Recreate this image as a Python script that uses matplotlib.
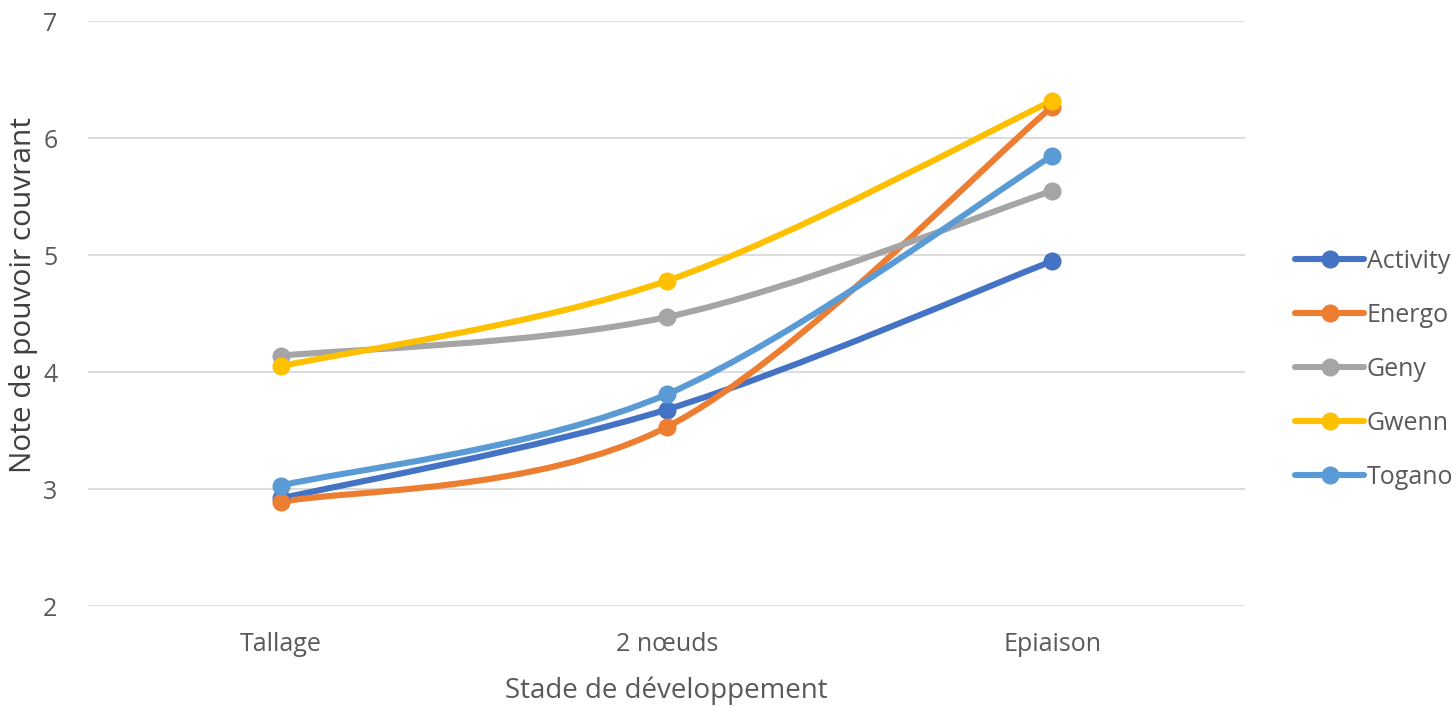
import matplotlib
matplotlib.use("Agg")
import matplotlib.pyplot as plt
import numpy as np
from matplotlib.path import Path
from matplotlib.patches import PathPatch
from matplotlib.lines import Line2D

stages = ["Tallage", "2 nœuds", "Epiaison"]
activity = [2.92, 3.68, 4.95]
energo = [2.89, 3.53, 6.27]
geny = [4.14, 4.47, 5.55]
gwenn = [4.05, 4.78, 6.32]
togano = [3.03, 3.81, 5.85]

series = [("Activity", activity, "#4472C4"),
          ("Energo", energo, "#ED7D31"),
          ("Geny", geny, "#A5A5A5"),
          ("Gwenn", gwenn, "#FFC000"),
          ("Togano", togano, "#5B9BD5")]

plt.rcParams['font.family'] = ["Open Sans", "DejaVu Sans"]
GREY = "#595959"


def smooth_path(x, y):
    # catmull-rom as cubic bezier (close to excel's smoothed line)
    P = np.column_stack([x, y]).astype(float)
    ext = np.vstack([P[0], P, P[-1]])
    verts = [P[0]]; codes = [Path.MOVETO]
    for i in range(len(P) - 1):
        p0, p1, p2, p3 = ext[i], ext[i+1], ext[i+2], ext[i+3]
        c1 = p1 + (p2 - p0) / 6.0
        c2 = p2 - (p3 - p1) / 6.0
        verts += [c1, c2, p2]; codes += [Path.CURVE4] * 3
    return Path(verts, codes)


fig = plt.figure(figsize=(14.53, 7.06), dpi=100)
ax = fig.add_axes([0.0606, 0.1416, 0.7965, 0.8284])
xs = np.arange(len(stages))
handles = []
for name, vals, col in series:
    ax.add_patch(PathPatch(smooth_path(xs, vals), fc="none", ec=col, lw=4.4,
                           capstyle="round", joinstyle="round", zorder=3))
    ax.plot(xs, vals, "o", color=col, ms=12, zorder=4, ls="none")
    handles.append(Line2D([], [], color=col, lw=4.4, marker="o", ms=12,
                          solid_capstyle="round"))

ax.set_xlim(-0.5, 2.5)
ax.set_ylim(2, 7)
ax.set_yticks(range(2, 8))
ax.set_xticks(xs)
ax.set_xticklabels(stages)
ax.grid(axis="y", color="#D9D9D9", lw=1.3, zorder=0)
ax.set_axisbelow(True)
for s in ax.spines.values():
    s.set_visible(False)
ax.tick_params(axis="both", length=0, labelsize=18, labelcolor=GREY)
ax.tick_params(axis="y", pad=22)
ax.tick_params(axis="x", pad=19)
ax.set_xlabel("Stade de développement", fontsize=20, color=GREY, labelpad=14)
ax.set_ylabel("Note de pouvoir couvrant", fontsize=21.5, color="#404040")
ax.yaxis.set_label_coords(-0.043, 0.532)

leg = fig.legend(handles, [s[0] for s in series], loc="center left",
                 bbox_to_anchor=(0.876, 0.477), frameon=False, fontsize=18,
                 handlelength=2.75, handletextpad=0.1, labelspacing=1.16,
                 numpoints=1)
for t in leg.get_texts():
    t.set_color(GREY)

fig.savefig("out.png", dpi=100)
